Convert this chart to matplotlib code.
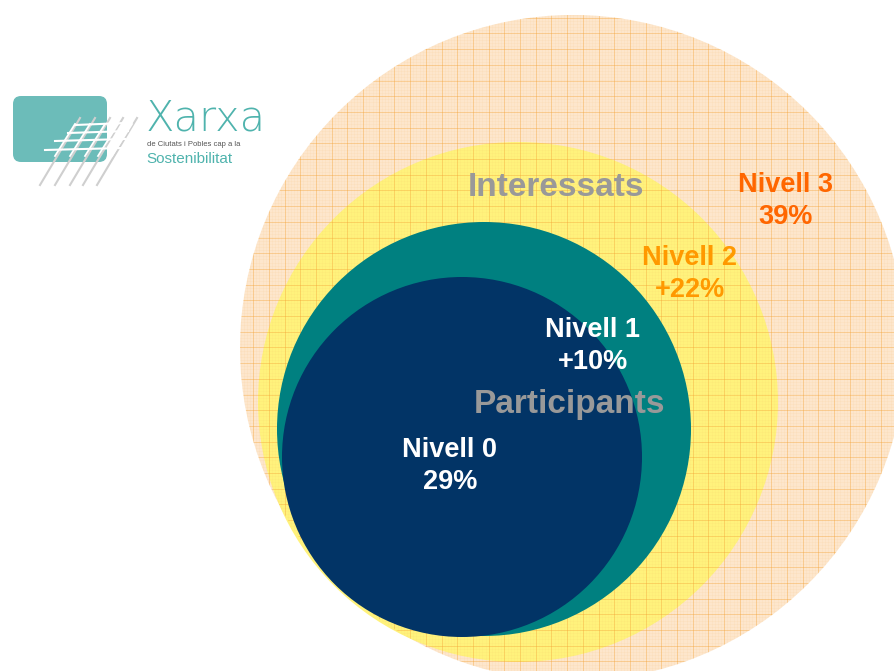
import numpy as np
import matplotlib.pyplot as plt
from matplotlib.patches import Circle, FancyBboxPatch
from matplotlib.collections import LineCollection

plt.rcParams['font.family'] = ['Liberation Sans', 'DejaVu Sans']

# Levels of participation (outer to inner)
levels = ['Nivell 3', 'Nivell 2', 'Nivell 1', 'Nivell 0']
shares = ['39%', '+22%', '+10%', '29%']
groups = ['Interessats', 'Participants']

# layout of the nested circles, pixel units (x, y, r)
circ_x = [573, 518, 484, 462]
circ_y = [348, 402, 429, 457]
circ_r = [333, 260, 207, 180]
circ_col = ['#fde6cc', '#fff27c', '#008080', '#023466']
label_pos = [(786, 201), (690, 274), (593, 346), (450, 466)]
label_col = ['#ff6600', '#ff9900', 'white', 'white']
group_pos = [(556, 188), (570, 405)]

fig = plt.figure(figsize=(8.95, 6.71), dpi=100)
ax = fig.add_axes([0, 0, 1, 1])
ax.set_xlim(0, 895)
ax.set_ylim(671, 0)
ax.set_aspect('equal')
ax.axis('off')

# outer + yellow circles
outer = Circle((circ_x[0], circ_y[0]), circ_r[0], fc=circ_col[0], ec='none', zorder=1)
ax.add_patch(outer)
ax.add_patch(Circle((circ_x[1], circ_y[1]), circ_r[1], fc=circ_col[1], ec='none', zorder=2))

# graph paper grid over the outer rings
def grid(step, lw, alpha, color):
    g = np.arange(2, 900, step)
    segs = [[(v, 0), (v, 671)] for v in g] + [[(0, v), (895, v)] for v in g]
    lc = LineCollection(segs, colors=color, linewidths=lw, alpha=alpha, zorder=3)
    ax.add_collection(lc)
    lc.set_clip_path(outer)

grid(15.7 / 5, 0.4, 0.12, '#f8b860')
grid(15.7, 0.7, 0.35, '#f5a030')

ax.add_patch(Circle((circ_x[2], circ_y[2]), circ_r[2], fc=circ_col[2], ec='none', zorder=4))
ax.add_patch(Circle((circ_x[3], circ_y[3]), circ_r[3], fc=circ_col[3], ec='none', zorder=5))

for lev, sh, (x, y), c in zip(levels, shares, label_pos, label_col):
    ax.text(x, y, lev + '\n' + sh, color=c, fontsize=19.5, fontweight='bold',
            ha='center', va='center', linespacing=1.3, zorder=6)
for g, (x, y) in zip(groups, group_pos):
    ax.text(x, y, g, color='#999999', fontsize=24, fontweight='bold',
            ha='center', va='center', zorder=6)

# logo
ax.add_patch(FancyBboxPatch((16, 99), 88, 60, boxstyle='round,pad=3,rounding_size=8',
                            fc='#6cbcb9', ec='none', zorder=2))
for yy, x0, x1 in [(125, 75, 125), (133, 68, 128), (141, 55, 125), (150, 45, 122)]:
    ax.plot([x0, x1], [yy, yy - 2], color='white', lw=1.5, zorder=3)
for xx in [65, 80, 95, 108, 122]:
    ax.plot([xx + 15, xx - 25], [118, 185], color='#cfcfcf', lw=1.5, zorder=2.5)
    ax.plot([xx + 10, xx - 10], [124, 156], color='white', lw=1.3, zorder=3)
ax.text(146, 118, 'Xarxa', color='#4fb3ad', fontsize=30, ha='left', va='center',
        family='DejaVu Sans', fontweight='light')
ax.text(147, 145, 'de Ciutats i Pobles cap a la', color='#555555', fontsize=5.5,
        ha='left', va='center')
ax.text(146, 159, 'Sostenibilitat', color='#4fb3ad', fontsize=11, ha='left', va='center')

fig.savefig('out.png', dpi=100)
